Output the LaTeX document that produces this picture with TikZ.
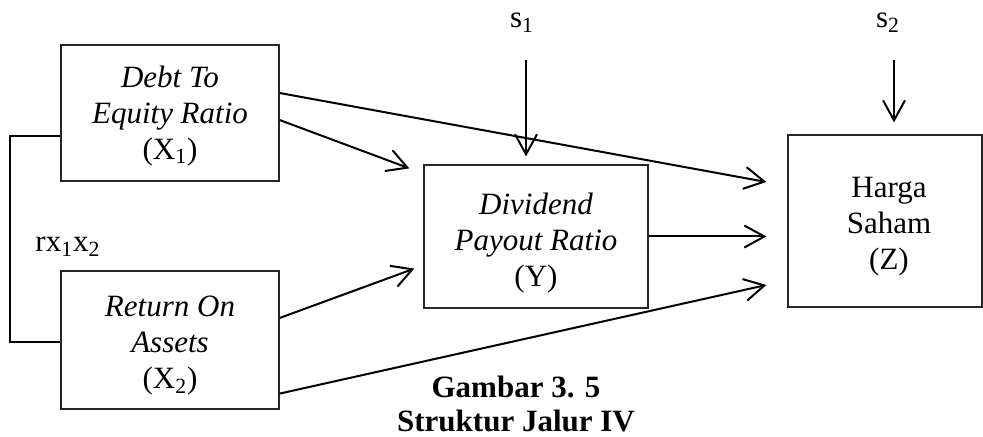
\documentclass[tikz,border=0pt]{standalone}
\usepackage{fontspec}
\setmainfont{Liberation Serif}
\usetikzlibrary{arrows.meta,calc}

\begin{document}
\begin{tikzpicture}[x=0.5pt,y=-0.5pt,
  box/.style={draw=black!85, line width=0.6pt, rectangle, inner sep=0pt},
  lbl/.style={align=center, inner sep=0pt, font=\fontsize{15.5}{18}\selectfont},
  arr/.style={line width=1pt, -{Straight Barb[length=10pt,width=11pt,line width=1pt]}},
  ]
\useasboundingbox (0,0) rectangle (983,437);

% variable boxes
\node[box, minimum width=109pt, minimum height=68pt] (x1) at (170,113) {};
\node[box, minimum width=109pt, minimum height=69pt] (x2) at (170,340) {};
\node[box, minimum width=112pt, minimum height=71.5pt] (y) at (536,236.5) {};
\node[box, minimum width=97pt, minimum height=86pt] (z) at (885,221) {};

% box texts
\node[lbl] (x1t) at (170,116) {\textit{Debt To}\\\textit{Equity Ratio}\\(X\textsubscript{1})};
\node[lbl] (x2t) at (170,346) {\textit{Return On}\\\textit{Assets}\\(X\textsubscript{2})};
\node[lbl] (yt) at (536,243) {\textit{Dividend}\\\textit{Payout Ratio}\\(Y)};
\node[lbl] (zt) at (889,227) {Harga\\Saham\\(Z)};

% residual terms
\node[lbl, anchor=base] (s1) at (522,28) {s\textsubscript{1}};
\node[lbl, anchor=base] (s2) at (888,28) {s\textsubscript{2}};
\coordinate (s1top) at (526,60);
\coordinate (s2top) at (894,60);
\draw[arr] (s1top) -- ([yshift=4pt]y.north -| s1top);
\draw[arr] (s2top) -- ([yshift=6pt]z.north -| s2top);

% paths
\coordinate (zin) at ([xshift=-10.5pt]z.west);
\draw[arr] ([yshift=10pt]x1.east) -- ([xshift=-10.5pt,yshift=19.5pt]z.west);
\draw[arr] ([yshift=-3.5pt]x1.east) -- ([xshift=-7pt,yshift=-2pt]y.north west);
\draw[arr] ([yshift=11pt]x2.east) -- ([xshift=-4.5pt,yshift=20pt]y.south west);
\draw[arr] ([yshift=8pt]x2.south east) -- ([xshift=-10.5pt,yshift=-32pt]z.west);
\draw[arr] (y.east) -- (y.east -| zin);

% correlation between X1 and X2
\coordinate (bk) at (10,240);
\draw[line width=1pt] ([yshift=-11.5pt]x1.west) -| (bk) |- ([yshift=-1pt]x2.west);
\node[lbl, anchor=base] (r12) at (68,252) {rx\textsubscript{1}x\textsubscript{2}};

% caption
\node[lbl, font=\fontsize{15.5}{18}\selectfont\bfseries, anchor=base] (cap1) at (516,398) {Gambar 3. 5};
\node[lbl, font=\fontsize{15.5}{18}\selectfont\bfseries, anchor=base] (cap2) at (516,431) {Struktur Jalur IV};
\end{tikzpicture}
\end{document}
